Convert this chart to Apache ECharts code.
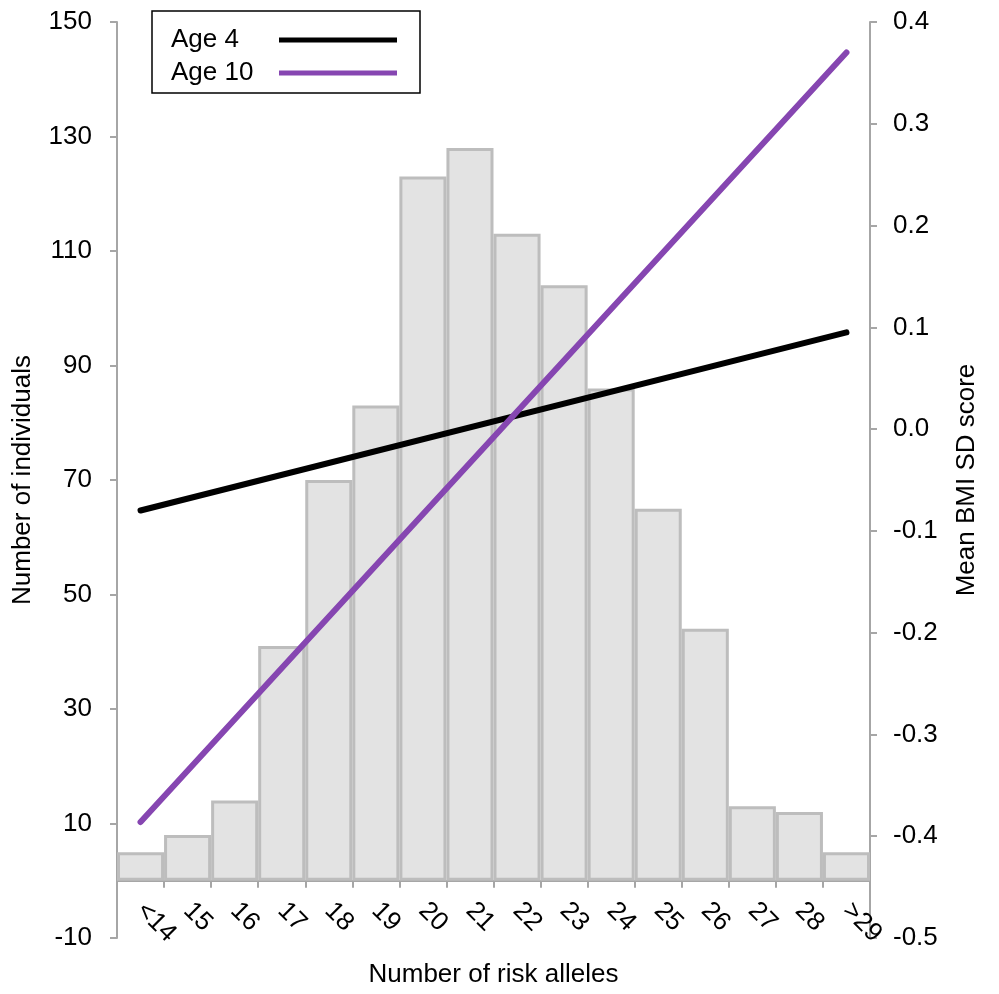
<!DOCTYPE html>
<html>
<head>
<meta charset="utf-8">
<script src="https://cdn.jsdelivr.net/npm/echarts@6/dist/echarts.min.js"></script>
<style>
html,body{margin:0;padding:0;background:#fff;}
#chart{width:999px;height:994px;}
</style>
</head>
<body>
<div id="chart"></div>
<script>
const categories = ['<14','15','16','17','18','19','20','21','22','23','24','25','26','27','28','>29'];
const counts = [5, 8, 14, 41, 70, 83, 123, 128, 113, 104, 86, 65, 44, 13, 12, 5];
// Mean BMI SD score regression lines: values at first and last category
const age4Ends = [-0.08, 0.095];
const age10Ends = [-0.386, 0.37];
const leftTicks = { min: -10, max: 150, interval: 20 };
const rightTicks = { min: -0.5, max: 0.4, interval: 0.1 };

const FONT = 'Liberation Sans, Arial, sans-serif';
const FS = 26;
const AXIS_COLOR = '#a6a6a6';
const PURPLE = '#8646b1';

const W = 999, H = 994;
const GRID = { left: 117, right: 129, top: 22, bottom: 56 };
const gridHeight = H - GRID.top - GRID.bottom;
// place the category axis line at count = 0 of the left axis
const xAxisOffset = -gridHeight * (0 - leftTicks.min) / (leftTicks.max - leftTicks.min);

const chart = echarts.init(document.getElementById('chart'), null, {renderer: 'canvas'});

function endsToData(ends) {
  return [[categories[0], ends[0]], [categories[categories.length - 1], ends[1]]];
}

chart.setOption({
  animation: false,
  textStyle: { fontFamily: FONT },
  grid: Object.assign({ containLabel: false, outerBoundsMode: 'none' }, GRID),
  legend: {
    data: ['Age 4', 'Age 10'],
    orient: 'vertical',
    left: 152,
    top: 11,
    align: 'right',
    icon: 'rect',
    itemWidth: 118,
    itemHeight: 5,
    itemGap: 7,
    padding: [16, 23, 7, 19],
    borderColor: '#000',
    borderWidth: 1.5,
    formatter: name => '{t|' + name + '}',
    textStyle: {
      fontSize: FS, color: '#000', fontFamily: FONT, lineHeight: 26,
      rich: { t: { width: 103, align: 'left', fontSize: FS, color: '#000', fontFamily: FONT, lineHeight: 26 } }
    }
  },
  xAxis: {
    type: 'category',
    data: categories,
    boundaryGap: true,
    position: 'bottom',
    offset: xAxisOffset,
    name: 'Number of risk alleles',
    nameLocation: 'middle',
    nameGap: 81,
    nameTextStyle: { fontSize: FS, color: '#000', fontFamily: FONT },
    axisLine: { show: true, onZero: false, lineStyle: { color: AXIS_COLOR, width: 2 } },
    axisTick: { show: true, length: 7, lineStyle: { color: AXIS_COLOR, width: 2 } },
    axisLabel: { interval: 0, rotate: -45, fontSize: FS, color: '#000', margin: 26, fontFamily: FONT },
    splitLine: { show: false }
  },
  yAxis: [
    {
      type: 'value',
      position: 'left',
      min: leftTicks.min, max: leftTicks.max, interval: leftTicks.interval,
      name: 'Number of individuals',
      nameLocation: 'middle',
      nameGap: 81,
      nameTextStyle: { fontSize: FS, color: '#000', fontFamily: FONT },
      axisLine: { show: true, onZero: false, lineStyle: { color: AXIS_COLOR, width: 2 } },
      axisTick: { show: true, length: 7, lineStyle: { color: AXIS_COLOR, width: 2 } },
      axisLabel: { fontSize: FS, color: '#000', margin: 25, fontFamily: FONT },
      splitLine: { show: false }
    },
    {
      type: 'value',
      position: 'right',
      min: rightTicks.min, max: rightTicks.max, interval: rightTicks.interval,
      name: 'Mean BMI SD score',
      nameLocation: 'middle',
      nameGap: 84,
      nameTextStyle: { fontSize: FS, color: '#000', fontFamily: FONT },
      axisLine: { show: true, onZero: false, lineStyle: { color: AXIS_COLOR, width: 2 } },
      axisTick: { show: true, length: 7, lineStyle: { color: AXIS_COLOR, width: 2 } },
      axisLabel: {
        fontSize: FS, color: '#000', margin: 23, fontFamily: FONT,
        formatter: v => (Math.abs(v) < 1e-9 ? 0 : v).toFixed(1)
      },
      splitLine: { show: false }
    }
  ],
  series: [
    {
      name: 'Individuals',
      type: 'bar',
      yAxisIndex: 0,
      data: counts,
      barCategoryGap: '0%',
      itemStyle: { color: '#e3e3e3', borderColor: '#bdbdbd', borderWidth: 3 },
      z: 1
    },
    {
      name: 'Age 4',
      type: 'line',
      yAxisIndex: 1,
      data: endsToData(age4Ends),
      symbol: 'none',
      color: '#000',
      lineStyle: { color: '#000', width: 6, cap: 'round' },
      itemStyle: { color: '#000' },
      z: 3
    },
    {
      name: 'Age 10',
      type: 'line',
      yAxisIndex: 1,
      data: endsToData(age10Ends),
      symbol: 'none',
      color: PURPLE,
      lineStyle: { color: PURPLE, width: 6, cap: 'round' },
      itemStyle: { color: PURPLE },
      z: 3
    }
  ]
});
</script>
</body>
</html>
